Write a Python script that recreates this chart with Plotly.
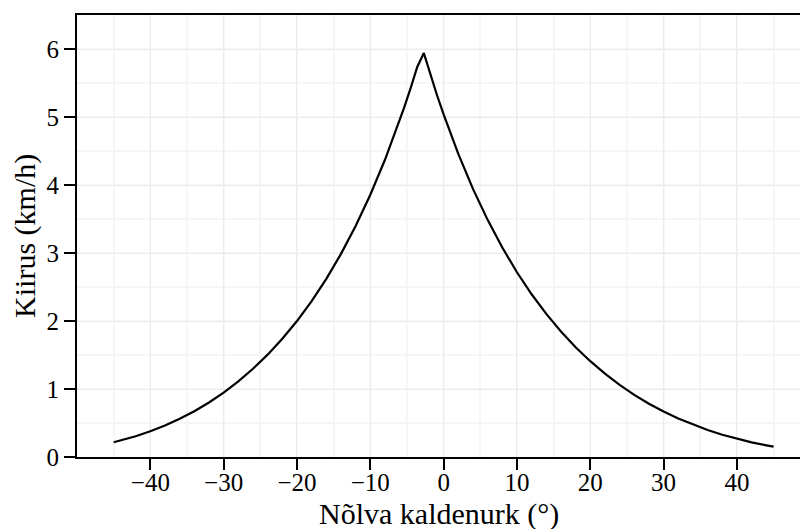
import plotly.graph_objects as go

# slope angle (degrees) and speed (km/h)
angle = [-45, -42, -40, -38, -36, -34, -32, -30, -28, -26, -24, -22, -20, -18, -16, -14,
         -12, -10, -8, -6.3, -5.4, -4.5, -3.6, -2.7, -1.8, -0.9, 0, 2, 4, 6, 8, 10, 12, 14,
         16, 18, 20, 22, 24, 26, 28, 30, 32, 34, 36, 38, 40, 42, 44, 45]
speed = [0.216, 0.306, 0.379, 0.464, 0.562, 0.674, 0.802, 0.947, 1.112, 1.297, 1.505,
         1.738, 1.999, 2.293, 2.620, 2.987, 3.396, 3.856, 4.371, 4.857, 5.134, 5.426,
         5.735, 5.94, 5.62, 5.32, 5.037, 4.457, 3.943, 3.487, 3.080, 2.717, 2.393, 2.105,
         1.847, 1.615, 1.409, 1.225, 1.060, 0.914, 0.784, 0.668, 0.565, 0.475, 0.396,
         0.327, 0.267, 0.216, 0.172, 0.152]

x_ticks = [-40, -30, -20, -10, 0, 10, 20, 30, 40]
y_ticks = [0, 1, 2, 3, 4, 5, 6]
x_title = "Nõlva kaldenurk (°)"
y_title = "Kiirus (km/h)"

fig = go.Figure(go.Scatter(x=angle, y=speed, mode="lines",
                           line=dict(color="black", width=2.2), hoverinfo="skip"))

fam = "Liberation Serif, Times New Roman, serif"

fig.update_layout(
    width=800, height=529,
    margin=dict(l=77, r=0, t=15, b=72, autoexpand=False),
    paper_bgcolor="white", plot_bgcolor="white",
    font=dict(family=fam, size=25, color="black"), showlegend=False,
    xaxis=dict(
        range=[-50, 48.6], tickvals=x_ticks, automargin=False,
        showline=True, linecolor="black", linewidth=2, mirror=True,
        ticks="outside", ticklen=11, tickwidth=2, tickcolor="black",
        ticklabelstandoff=-9,
        showgrid=True, gridcolor="#EBEBEB", gridwidth=1.2, zeroline=False,
        minor=dict(dtick=5, tick0=-45, showgrid=True, gridcolor="#F6F6F6", gridwidth=1.5, ticks=""),
        tickfont=dict(size=25),
    ),
    yaxis=dict(
        range=[0, 6.5], tickvals=y_ticks, automargin=False,
        showline=True, linecolor="black", linewidth=2, mirror=False,
        ticks="outside", ticklen=11, tickwidth=2, tickcolor="black",
        showgrid=True, gridcolor="#EBEBEB", gridwidth=1.2, zeroline=False,
        minor=dict(dtick=0.5, tick0=0, showgrid=True, gridcolor="#F6F6F6", gridwidth=1.5, ticks=""),
        tickfont=dict(size=25),
    ),
    annotations=[
        dict(text=x_title, xref="paper", yref="paper", x=0.5, y=-0.13,
             xanchor="center", yanchor="middle", showarrow=False,
             font=dict(family=fam, size=30, color="black")),
        dict(text=y_title, xref="paper", yref="paper", x=-0.072, y=0.5,
             xanchor="center", yanchor="middle", showarrow=False, textangle=-90,
             font=dict(family=fam, size=30, color="black")),
    ],
)

fig.write_html("out.html", config={"displayModeBar": False},
               post_script="document.body.style.margin='0';document.body.style.overflow='hidden';")
